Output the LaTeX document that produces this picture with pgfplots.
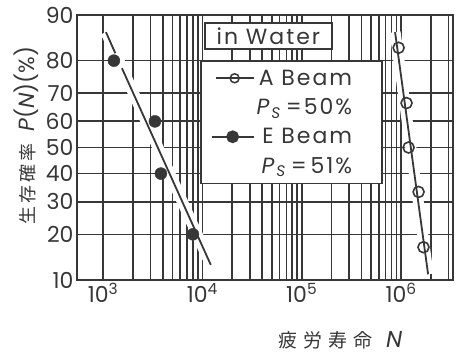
\documentclass[border=0pt]{standalone}
\usepackage{fontspec}
\setmainfont{Poppins}
\newfontfamily\lsfont{Poppins}[LetterSpace=9]
\newfontfamily\cjk{Noto Sans CJK JP}
\usepackage{pgfplots}
\pgfplotsset{compat=1.18}
\definecolor{ink}{RGB}{55,55,55}
\newcommand{\PS}{\textit{P}\textsubscript{\textit{S}}}
\begin{document}
\begin{tikzpicture}
\useasboundingbox (0,0) rectangle (462pt,355pt);
\begin{axis}[
  at={(77pt,75pt)}, anchor=south west,
  width=376pt, height=265pt, scale only axis,
  xmode=log, xmin=548, xmax=3.33e6,
  y filter/.expression={4.91*((y/100)^0.14-(1-y/100)^0.14)},
  ymin=-1.28155, ymax=1.28155,
  ytick={-1.28155,-0.84162,-0.52440,-0.25335,0,0.25335,0.52440,0.84162,1.28155},
  yticklabels={10,20,30,40,50,60,70,80,90},
  xtick={1000,10000,100000,1000000},
  xticklabels={10\textsuperscript{3},10\textsuperscript{4},10\textsuperscript{5},10\textsuperscript{6}},
  minor xtick={2000,3000,4000,5000,6000,7000,8000,9000,20000,30000,40000,50000,60000,70000,80000,90000,200000,300000,400000,500000,600000,700000,800000,900000,2000000,3000000},
  grid=both,
  major grid style={ink, line width=1.6pt},
  minor grid style={ink, line width=1.6pt},
  major tick length=0pt, minor tick length=0pt,
  axis line style={ink, line width=2pt},
  tick label style={font=\fontsize{22}{24}\selectfont, text=ink},
  xlabel={{\cjk 疲\hspace{6pt}労\hspace{6pt}寿\hspace{6pt}命}\hspace{14pt}{\fontsize{23}{24}\selectfont\textit{N}}},
  xlabel style={at={(axis description cs:0.70,-0.226)}, anchor=center, font=\fontsize{19}{22}\selectfont, text=ink},
  ylabel={{\cjk 生\hspace{3pt}存\hspace{3pt}確\hspace{3pt}率}\hspace{12pt}{\fontsize{22}{24}\selectfont\textit{P}(\textit{N})(\%)}},
  ylabel style={at={(axis description cs:-0.136,0.545)}, anchor=center, font=\fontsize{18}{22}\selectfont, text=ink},
  legend style={at={(axis description cs:0.327,0.830)}, anchor=north west, draw=ink, line width=1.6pt, fill=white,
    font=\lsfont\fontsize{22}{24}\selectfont, text=ink, inner xsep=10pt, inner ysep=7pt, row sep=8pt},
  legend cell align=right,
]
% white clearing along the fitted lines
\addplot[white, line width=11pt, forget plot] coordinates {(1072,86.8) (12162,12.8)};
\addplot[white, line width=11pt, forget plot] coordinates {(8.7e5,86.8) (1.87e6,11)};
% E Beam fitted line
\addplot[ink, line width=1.8pt, forget plot] coordinates {(1072,86.8) (1331,81.95)};
\addplot[ink, line width=1.8pt, forget plot] coordinates {(1553,77.9) (12162,12.8)};
\addplot[ink, only marks, mark=*, mark size=6pt, forget plot] coordinates {(1288,80) (3335,60) (3830,40) (8035,20)};
% A Beam fitted line
\addplot[ink, line width=1.8pt, forget plot] coordinates {(8.7e5,86.8) (1.87e6,11)};
\addplot[ink, only marks, mark=o, mark size=5.5pt, mark options={fill=white, line width=1.6pt}, forget plot]
  coordinates {(9.44e5,83.3) (1.135e6,66.7) (1.19e6,50) (1.5e6,33.3) (1.68e6,16.7)};
% legend
\addlegendimage{ink, line width=1.8pt, mark=o, mark size=4.5pt, mark options={fill=white, line width=1.5pt},
  legend image code/.code={\draw[mark repeat=2,mark phase=2] plot coordinates {(4pt,0pt)(23pt,0pt)(42pt,0pt)};}}
\addlegendentry{A Beam\hspace*{18pt}}
\addlegendimage{empty legend}
\addlegendentry{\PS\,=50\%\hspace*{18pt}\rule[-15pt]{0pt}{0pt}}
\addlegendimage{ink, line width=1.8pt, mark=*, mark size=5.5pt,
  legend image code/.code={\draw[mark repeat=2,mark phase=2] plot coordinates {(0pt,0pt)(21pt,0pt)(42pt,0pt)};}}
\addlegendentry{E Beam\hspace*{18pt}}
\addlegendimage{empty legend}
\addlegendentry{\PS\,=\,51\%\hspace*{18pt}\rule[-9pt]{0pt}{0pt}}
\node[draw=ink, line width=1.6pt, fill=white, text=ink, font=\lsfont\fontsize{22}{24}\selectfont,
  minimum width=127pt, minimum height=26pt, inner sep=1pt] at (axis description cs:0.509,0.921) {in Water};
\end{axis}
\end{tikzpicture}
\end{document}
